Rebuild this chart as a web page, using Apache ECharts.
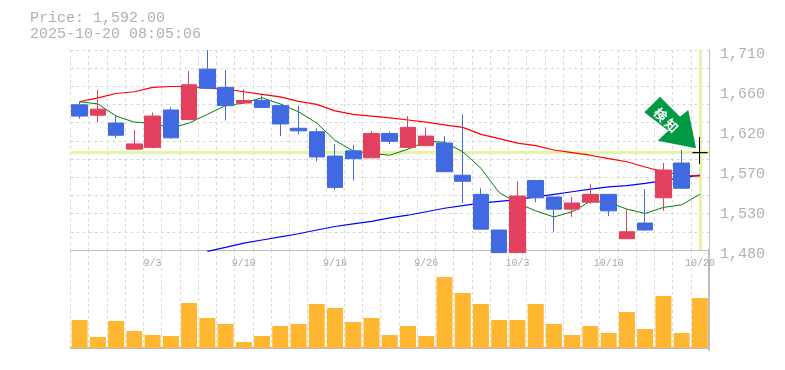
<!DOCTYPE html>
<html><head><meta charset="utf-8">
<script src="https://cdn.jsdelivr.net/npm/echarts@6/dist/echarts.min.js"></script>
<style>html,body{margin:0;padding:0;background:#fff}#c{width:785px;height:370px}</style></head>
<body><div id="c"></div>
<script>
const categories=['8/28','8/29','9/1','9/2','9/3','9/4','9/5','9/8','9/9','9/10','9/11','9/12','9/16','9/17','9/18','9/19','9/22','9/24','9/25','9/26','9/29','9/30','10/1','10/2','10/3','10/6','10/7','10/8','10/9','10/10','10/14','10/15','10/16','10/17','10/20'];
const opens=[1647,1635,1626,1596,1598,1641,1630,1688,1667,1649,1652,1646,1620,1616,1588,1594,1586,1614,1598,1600,1603,1566,1544,1503,1477,1560,1541,1527,1535,1544,1493,1511,1540,1580];
const closes=[1634,1642,1612,1602,1634,1609,1670,1666,1646,1652,1644,1625,1617,1587,1552,1585,1614,1605,1621,1611,1570,1559,1504,1477,1542,1540,1527,1534,1544,1525,1501,1503,1572,1551];
const lows=[1631,1627,1609,1596,1597,1608,1629,1666,1629,1648,1644,1611,1613,1582,1549,1560,1586,1602,1598,1600,1570,1534,1504,1477,1477,1535,1501,1518,1533,1519,1493,1502,1525,1551];
const highs=[1651,1664,1635,1618,1638,1644,1686,1710,1687,1665,1658,1646,1646,1620,1602,1601,1617,1616,1634,1621,1611,1636,1551,1503,1559,1560,1541,1541,1556,1544,1527,1550,1580,1595];
const lastPrice=1592, lastHigh=1610, lastLow=1579;
const maShort=[1650.5,1648,1634,1627,1626,1620,1626,1636,1646,1649,1655,1648,1639,1626,1606,1594,1591,1589,1596,1605,1604,1593,1574,1546,1534,1525,1518,1524,1536,1535,1527,1522,1529,1532,1544];
const maMid=[1650.5,1655,1660,1662,1667,1668,1668,1666,1665,1662,1659,1656,1651,1647.5,1640,1636,1634,1632,1629.5,1627,1624,1621,1613,1608,1603,1600,1595,1592,1589,1585,1581.5,1575.5,1570,1566,1565];
const maLong=[null,null,null,null,null,null,null,1478.5,1483,1488,1491.5,1495,1498.7,1503,1507,1510,1513,1517,1520,1524,1528,1531,1534,1536,1538,1541,1544,1547,1550,1552.5,1554,1556.7,1559.7,1563,1566];
const volumes=[280,110,270,170,130,120,450,300,240,60,120,220,240,440,400,260,300,130,220,120,710,550,440,280,280,440,240,130,220,150,360,190,520,150,500];
const priceTicks=[1480,1526,1572,1618,1664,1710];
const titleLines=['Price: 1,592.00','2025-10-20 08:05:06'];
const badgeText='検\u2009知';
const gray='#bdbdbd', textC='#b0b0b0', gridC='#d8d8d8', up='#e34060', down='#4169e1';
const candleData=opens.map((o,i)=>[o,closes[i],lows[i],highs[i]]);
candleData.push({value:[lastPrice,lastPrice,lastLow,lastHigh],itemStyle:{color:'#000',color0:'#000',borderColor:'#000',borderColor0:'#000',borderWidth:1}});
const chart=echarts.init(document.getElementById('c'),null,{renderer:'canvas'});
const mono='"Liberation Mono",monospace';
const xCommon={type:'category',data:categories,boundaryGap:true,
  axisTick:{show:false},
  splitLine:{show:true,interval:0,lineStyle:{color:gridC,type:[3,3],width:1}}};
chart.setOption({
  animation:false,
  title:{text:titleLines.join('\n'),left:30,top:10,padding:0,textStyle:{fontFamily:mono,fontSize:15,fontWeight:'normal',color:textC,lineHeight:16}},
  grid:[{left:70.5,right:76,top:50,height:200},{left:70.5,right:76,top:250,height:100}],
  xAxis:[
    Object.assign({},xCommon,{gridIndex:0,position:'bottom',
      axisLine:{show:true,lineStyle:{color:gray,width:1}},
      axisLabel:{show:true,interval:(i)=>i%5===4,color:'#a8a8a8',fontFamily:mono,fontSize:10,margin:8,showMaxLabel:true}}),
    Object.assign({},xCommon,{gridIndex:1,position:'bottom',
      axisLine:{show:true,lineStyle:{color:gray,width:2}},axisLabel:{show:false}})
  ],
  yAxis:[
    {type:'value',gridIndex:0,position:'right',min:1480,max:1710,scale:true,
      axisLine:{show:true,lineStyle:{color:gray,width:1}},axisTick:{show:false},splitLine:{show:false},
      axisLabel:{customValues:priceTicks,formatter:v=>(Math.round(v/10)*10).toLocaleString('en-US'),color:textC,fontFamily:mono,fontSize:15,margin:11,verticalAlign:'top',lineHeight:8}},
    {type:'value',gridIndex:0,position:'left',min:0,max:11,interval:1,
      axisLine:{show:false},axisTick:{show:false},axisLabel:{show:false},
      splitLine:{show:true,lineStyle:{color:gridC,type:[3,3],width:1}}},
    {type:'value',gridIndex:1,position:'right',min:-20,max:980,
      axisLine:{show:true,lineStyle:{color:gray,width:2}},axisTick:{show:false},axisLabel:{show:false},splitLine:{show:false}}
  ],
  series:[
    {name:'MA long',type:'line',xAxisIndex:0,yAxisIndex:0,data:maLong,symbol:'none',clip:false,z:3,lineStyle:{color:'#0000ff',width:1.2}},
    {name:'MA mid',type:'line',xAxisIndex:0,yAxisIndex:0,data:maMid,symbol:'none',clip:false,z:3,lineStyle:{color:'#ff0000',width:1.2}},
    {name:'MA short',type:'line',xAxisIndex:0,yAxisIndex:0,data:maShort,symbol:'none',clip:false,z:3,lineStyle:{color:'#008000',width:1},
      markLine:{silent:true,symbol:'none',label:{show:false},z:2,lineStyle:{color:'#e5f3a6',width:3,type:'solid'},
        data:[{yAxis:lastPrice},{xAxis:categories[categories.length-1]}]}},
    {name:'Price',type:'candlestick',xAxisIndex:0,yAxisIndex:0,data:candleData,barWidth:16,clip:false,z:5,
      itemStyle:{color:up,color0:down,borderColor:up,borderColor0:down,borderWidth:1}},
    {name:'Volume',type:'bar',xAxisIndex:1,yAxisIndex:2,data:volumes,barWidth:16,itemStyle:{color:'#ffb732'},z:4}
  ],
  graphic:[
    {type:'polygon',z:20,silent:true,shape:{points:[[660,96.7],[644.3,112.3],[668.3,130.7],[657.7,140.7],[696,148.3],[688.3,110],[680,116.7]]},style:{fill:'#009944'}},
    {type:'text',z:21,silent:true,x:666,y:120,rotation:-Math.PI/4,style:{text:badgeText,fill:'#fff',font:'bold 13px "Noto Sans CJK JP"',align:'center',verticalAlign:'middle'}}
  ]
});
</script></body></html>
